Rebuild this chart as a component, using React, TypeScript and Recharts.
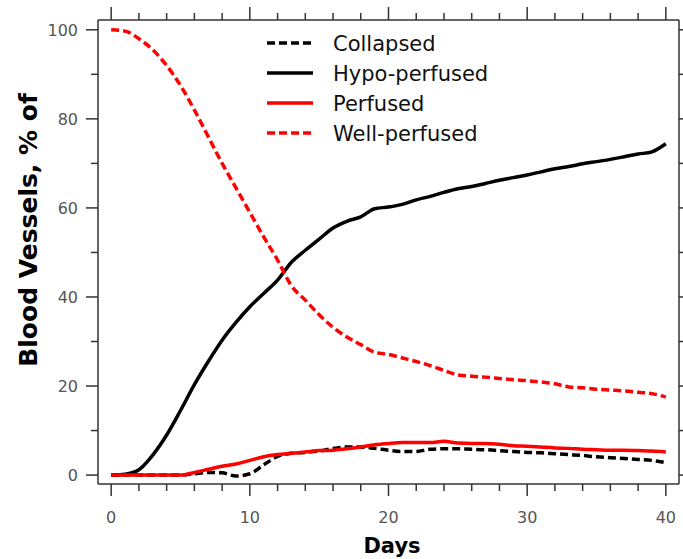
import { LineChart, Line, XAxis, YAxis, Legend } from 'recharts';

const days = [
  0, 1, 2, 3, 4, 5, 6, 7, 8, 9, 10, 11, 12, 13, 14, 15, 16, 17, 18, 19, 20,
  21, 22, 23, 24, 25, 26, 27, 28, 29, 30, 31, 32, 33, 34, 35, 36, 37, 38, 39, 40,
];

const collapsed = [
  0, 0, 0, 0, 0, 0, 0.3, 0.6, 0.5, -0.2, 0.3, 2.3, 4.2, 4.9, 5.1, 5.4, 6.0, 6.3, 6.3, 6.0, 5.6,
  5.3, 5.3, 5.8, 5.9, 5.9, 5.8, 5.7, 5.5, 5.3, 5.1, 5.0, 4.8, 4.6, 4.4, 4.1, 3.9, 3.7, 3.5, 3.3, 2.8,
];

const hypoPerfused = [
  0, 0.2, 1.2, 4.5, 9, 14.5, 20.3, 25.5, 30.3, 34.3, 37.8, 40.8, 43.8, 47.8, 50.5, 53, 55.5, 57, 58, 59.8, 60.2,
  60.8, 61.8, 62.6, 63.5, 64.3, 64.8, 65.5, 66.2, 66.8, 67.4, 68.1, 68.8, 69.3, 69.9, 70.4, 70.9, 71.5, 72.1, 72.6, 74.4,
];

const perfused = [
  0, 0, 0, 0, 0, 0, 0.6, 1.3, 2.0, 2.5, 3.3, 4.1, 4.6, 4.9, 5.2, 5.5, 5.6, 5.9, 6.3, 6.8, 7.1,
  7.3, 7.3, 7.3, 7.6, 7.2, 7.1, 7.1, 6.9, 6.6, 6.5, 6.3, 6.1, 6.0, 5.8, 5.7, 5.6, 5.6, 5.5, 5.4, 5.2,
];

const wellPerfused = [
  100, 99.7, 98, 95.5, 92, 87.5, 82, 76, 70, 64.5, 59, 53.5, 48.3, 42.5, 39.3, 36, 33.2, 31, 29.3, 27.6, 27.1,
  26.3, 25.5, 24.6, 23.5, 22.5, 22.2, 22, 21.7, 21.4, 21.2, 20.9, 20.5, 19.8, 19.6, 19.3, 19.1, 18.9, 18.6, 18.3, 17.5,
];

const xTicks = [0, 2, 4, 6, 8, 10, 12, 14, 16, 18, 20, 22, 24, 26, 28, 30, 32, 34, 36, 38, 40];
const yTicks = [0, 10, 20, 30, 40, 50, 60, 70, 80, 90, 100];

const series = [
  { key: 'collapsed', name: 'Collapsed', color: '#000000', dash: '8 4' },
  { key: 'hypo', name: 'Hypo-perfused', color: '#000000', dash: undefined },
  { key: 'perfused', name: 'Perfused', color: '#ff0000', dash: undefined },
  { key: 'well', name: 'Well-perfused', color: '#ff0000', dash: '8 4' },
];

const data = days.map((d, i) => ({
  day: d,
  collapsed: collapsed[i],
  hypo: hypoPerfused[i],
  perfused: perfused[i],
  well: wellPerfused[i],
}));

const FONT = "'DejaVu Sans', sans-serif";
const AXIS = '#333';

const BottomTick = ({ x, y, payload }: any) => {
  const major = payload.value % 10 === 0;
  return (
    <g>
      <line x1={x} y1={y} x2={x} y2={y + (major ? 12 : 7)} stroke={AXIS} strokeWidth={1.5} />
      {major && (
        <text x={x} y={y + 39} textAnchor="middle" fill="#555" fontSize={16} fontFamily={FONT}>
          {payload.value}
        </text>
      )}
    </g>
  );
};

const TopTick = ({ x, y, payload }: any) => {
  const major = payload.value % 10 === 0;
  return <line x1={x} y1={y} x2={x} y2={y - (major ? 13 : 7)} stroke={AXIS} strokeWidth={1.5} />;
};

const LeftTick = ({ x, y, payload }: any) => {
  const major = payload.value % 20 === 0;
  return (
    <g>
      <line x1={x} y1={y} x2={x - (major ? 12 : 7)} y2={y} stroke={AXIS} strokeWidth={1.5} />
      {major && (
        <text x={x - 20} y={y} dy="0.36em" textAnchor="end" fill="#555" fontSize={16} fontFamily={FONT}>
          {payload.value}
        </text>
      )}
    </g>
  );
};

const RightTick = ({ x, y, payload }: any) => {
  const major = payload.value % 20 === 0;
  return <line x1={x} y1={y} x2={x + (major ? 12 : 7)} y2={y} stroke={AXIS} strokeWidth={1.5} />;
};

const DaysLabel = () => (
  <text x={392} y={553} textAnchor="middle" fontSize={21} fontWeight="bold" fontFamily={FONT} fill="#000">
    Days
  </text>
);

const VesselsLabel = () => (
  <text
    x={37}
    y={230}
    transform="rotate(-90, 37, 230)"
    textAnchor="middle"
    fontSize={25}
    fontWeight="bold"
    fontFamily={FONT}
    fill="#000"
  >
    Blood Vessels, % of
  </text>
);

const LegendBox = () => (
  <svg width={270} height={125}>
    {series.map((s, i) => {
      const cy = 15 + i * 30;
      return (
        <g key={s.key}>
          <line x1={5} y1={cy} x2={51} y2={cy} stroke={s.color} strokeWidth={3.5} strokeDasharray={s.dash} />
          <text x={71} y={cy} dy="0.36em" fontSize={21} fontFamily={FONT} fill="#111">
            {s.name}
          </text>
        </g>
      );
    })}
  </svg>
);

export default function App() {
  return (
    <div style={{ position: 'absolute', left: 0, top: 0, width: 683, height: 559, background: '#fff' }}>
      <LineChart width={683} height={559} data={data} margin={{ top: 0, right: 0, bottom: 0, left: 0 }}>
        <XAxis
          dataKey="day"
          type="number"
          domain={[-0.95, 40.95]}
          allowDataOverflow
          ticks={xTicks}
          interval={0}
          height={75}
          tickSize={0}
          tickMargin={0}
          tickLine={false}
          axisLine={{ stroke: AXIS, strokeWidth: 1.5 }}
          tick={<BottomTick />}
          label={<DaysLabel />}
        />
        <XAxis
          xAxisId="top"
          orientation="top"
          dataKey="day"
          type="number"
          domain={[-0.95, 40.95]}
          allowDataOverflow
          ticks={xTicks}
          interval={0}
          height={20}
          tickSize={0}
          tickMargin={0}
          tickLine={false}
          axisLine={{ stroke: AXIS, strokeWidth: 1.5 }}
          tick={<TopTick />}
        />
        <YAxis
          type="number"
          domain={[-2, 102.2]}
          allowDataOverflow
          ticks={yTicks}
          interval={0}
          width={98}
          tickSize={0}
          tickMargin={0}
          tickLine={false}
          axisLine={{ stroke: AXIS, strokeWidth: 1.5 }}
          tick={<LeftTick />}
          label={<VesselsLabel />}
        />
        <YAxis
          yAxisId="right"
          orientation="right"
          type="number"
          domain={[-2, 102.2]}
          allowDataOverflow
          ticks={yTicks}
          interval={0}
          width={4}
          tickSize={0}
          tickMargin={0}
          tickLine={false}
          axisLine={{ stroke: AXIS, strokeWidth: 1.5 }}
          tick={<RightTick />}
        />
        <Legend
          align="center"
          verticalAlign="middle"
          content={() => <LegendBox />}
          wrapperStyle={{ left: 262, top: 28, width: 270, height: 125 }}
        />
        {series.map((s) => (
          <Line
            key={s.key}
            dataKey={s.key}
            name={s.name}
            type="monotone"
            stroke={s.color}
            strokeWidth={3.5}
            strokeDasharray={s.dash}
            dot={false}
            activeDot={false}
            isAnimationActive={false}
          />
        ))}
      </LineChart>
    </div>
  );
}
